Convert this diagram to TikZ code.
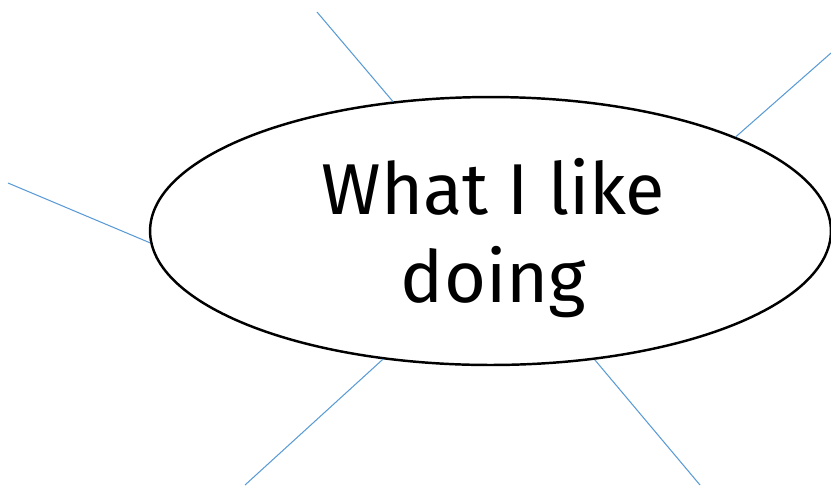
\documentclass[tikz,border=0pt]{standalone}
\usepackage{fontspec}
\setmainfont{Fira Sans}
\usetikzlibrary{shapes.geometric, positioning}

\definecolor{spokeblue}{RGB}{91,155,213}

\begin{document}
\begin{tikzpicture}[
        x=0.02cm, y=-0.02cm,
        bubble/.style={draw, ellipse, line width=1.4pt, minimum width=13.62cm, minimum height=5.36cm, inner sep=0pt},
        title/.style={align=center, inner sep=0pt, font=\fontsize{41}{50}\selectfont},
        spoke/.style={draw=spokeblue, line width=0.6pt}
    ]
        \useasboundingbox (0,0) rectangle (831,485);

        % Bulle centrale
        \node[bubble] (topic) at (490.5,231) {};
        \node[title] (topictext) at ([xshift=0.06cm, yshift=-0.14cm]topic.center) {What I like\\doing};

        % Extrémités libres des branches
        \coordinate (tipA) at (317,12);
        \coordinate (tipB) at (831,53);
        \coordinate (tipC) at (8,183);
        \coordinate (tipD) at (245,485);
        \coordinate (tipE) at (700,485);

        % Branches
        \draw[spoke] (topic.127.8) -- (tipA);
        \draw[spoke] (topic.21.7) -- (tipB);
        \draw[spoke] (topic.182.1) -- (tipC);
        \draw[spoke] (topic.230.9) -- (tipD);
        \draw[spoke] (topic.309.3) -- (tipE);
    \end{tikzpicture}
\end{document}
